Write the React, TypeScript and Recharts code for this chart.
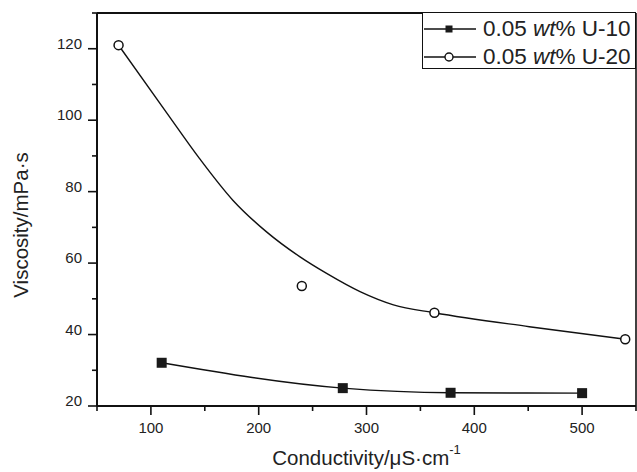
import React from 'react'
import {
  ComposedChart,
  Line,
  Scatter,
  XAxis,
  YAxis,
  ReferenceLine,
} from 'recharts'

// conductivity (µS/cm) vs viscosity (mPa·s)
const u10Cond = [110, 278, 378, 500]
const u10Visc = [32.1, 25.0, 23.7, 23.6]

const u20Cond = [70, 240, 363, 540]
const u20Visc = [121, 53.6, 46.1, 38.7]

// smoothed curve drawn through the U-20 points
const u20FitCond = [70, 115, 145, 176, 207, 238, 263, 294, 325, 363, 451, 540]
const u20FitVisc = [121, 101.9, 89.3, 77.6, 68.8, 61.8, 57.1, 52.0, 48.3, 46.1, 42.2, 38.7]

const xTicks = [50, 100, 150, 200, 250, 300, 350, 400, 450, 500, 550]
const xLabels = [100, 200, 300, 400, 500]
const yTicks = [20, 30, 40, 50, 60, 70, 80, 90, 100, 110, 120, 130]
const yLabels = [20, 40, 60, 80, 100, 120]

const legendNames = ['U-10', 'U-20']

const FONT = '"Liberation Sans", Arial, Helvetica, sans-serif'

const toPoints = (xs: number[], ys: number[]) => xs.map((x, i) => ({ x, y: ys[i] }))

const u10Data = toPoints(u10Cond, u10Visc)
const u20Data = toPoints(u20Cond, u20Visc)
const u20Fit = toPoints(u20FitCond, u20FitVisc)

function XTick({ x, y, payload }: any) {
  const major = payload.value % 100 === 0
  return (
    <g>
      <line x1={x} x2={x} y1={y} y2={y + (major ? 9 : 5)} stroke="#111" strokeWidth={1.6} />
      {xLabels.includes(payload.value) && (
        <text x={x} y={y + 21.5} dy="0.35em" textAnchor="middle" fontSize={15} fontFamily={FONT} fill="#222">
          {payload.value}
        </text>
      )}
    </g>
  )
}

function YTick({ x, y, payload }: any) {
  const major = payload.value % 20 === 0
  return (
    <g>
      <line x1={x} x2={x - (major ? 9 : 5)} y1={y} y2={y} stroke="#111" strokeWidth={1.6} />
      {yLabels.includes(payload.value) && (
        <text x={x - 15} y={y - 5} dy="0.35em" textAnchor="end" fontSize={15} fontFamily={FONT} fill="#222">
          {payload.value}
        </text>
      )}
    </g>
  )
}

function SquareDot({ cx, cy, index }: any) {
  return <rect key={`sq-${index}`} x={cx - 5} y={cy - 5} width={10} height={10} fill="#1a1a1a" />
}

function CircleDot({ cx, cy }: any) {
  return <circle cx={cx} cy={cy} r={4.5} fill="#fff" stroke="#111" strokeWidth={1.5} />
}

function LegendBox() {
  return (
    <div
      style={{
        position: 'absolute',
        left: 422,
        top: 12,
        width: 214,
        height: 57,
        border: '1px solid #111',
        boxSizing: 'border-box',
        background: '#fff',
        fontFamily: FONT,
      }}
    >
      {legendNames.map((name, i) => (
        <div
          key={name}
          style={{ position: 'absolute', left: 0, top: i === 0 ? 4 : 32, height: 24, display: 'flex', alignItems: 'center' }}
        >
          <svg width={54} height={24} style={{ display: 'block' }}>
            <line x1={1} x2={53} y1={12} y2={12} stroke="#111" strokeWidth={1.3} />
            {i === 0 ? (
              <rect x={22.5} y={8.5} width={7} height={7} fill="#1a1a1a" />
            ) : (
              <circle cx={26} cy={12} r={4} fill="#fff" stroke="#111" strokeWidth={1.4} />
            )}
          </svg>
          <span style={{ marginLeft: 6, fontSize: 22.5, color: '#222', whiteSpace: 'nowrap', lineHeight: '24px' }}>
            0.05 <i>wt</i>% {name}
          </span>
        </div>
      ))}
    </div>
  )
}

export default function App() {
  return (
    <div style={{ position: 'absolute', left: 0, top: 0, width: 637, height: 472, background: '#fff' }}>
      <ComposedChart width={637} height={472} margin={{ top: 13, right: 1, bottom: 0, left: 0 }}>
        <XAxis
          dataKey="x"
          type="number"
          domain={[50, 550]}
          ticks={xTicks}
          interval={0}
          height={66}
          tickSize={0}
          tickMargin={0}
          tick={<XTick />}
          axisLine={{ stroke: '#111', strokeWidth: 2 }}
          label={{
            content: () => (
              <text x={366.5} y={465} textAnchor="middle" fontSize={20.5} fontFamily={FONT} fill="#222">
                Conductivity/μS·cm
                <tspan fontSize={13} dy={-11}>-1</tspan>
              </text>
            ),
          }}
        />
        <YAxis
          type="number"
          domain={[20, 130]}
          ticks={yTicks}
          interval={0}
          width={97}
          tickSize={0}
          tickMargin={0}
          tick={<YTick />}
          axisLine={{ stroke: '#111', strokeWidth: 2 }}
          label={{
            content: () => (
              <text
                x={21}
                y={225}
                dy="0.35em"
                textAnchor="middle"
                transform="rotate(-90 21 225)"
                fontSize={20.5}
                fontFamily={FONT}
                fill="#222"
              >
                Viscosity/mPa·s
              </text>
            ),
          }}
        />
        <ReferenceLine y={130} stroke="#111" strokeWidth={2} />
        <ReferenceLine x={550} stroke="#111" strokeWidth={1.6} />
        <Line
          data={u20Fit}
          dataKey="y"
          type="monotone"
          stroke="#111"
          strokeWidth={1.4}
          dot={false}
          activeDot={false}
          isAnimationActive={false}
        />
        <Scatter data={u20Data} dataKey="y" shape={<CircleDot />} isAnimationActive={false} />
        <Line
          data={u10Data}
          dataKey="y"
          type="monotone"
          stroke="#111"
          strokeWidth={1.4}
          dot={<SquareDot />}
          activeDot={false}
          isAnimationActive={false}
        />
      </ComposedChart>
      <LegendBox />
    </div>
  )
}
